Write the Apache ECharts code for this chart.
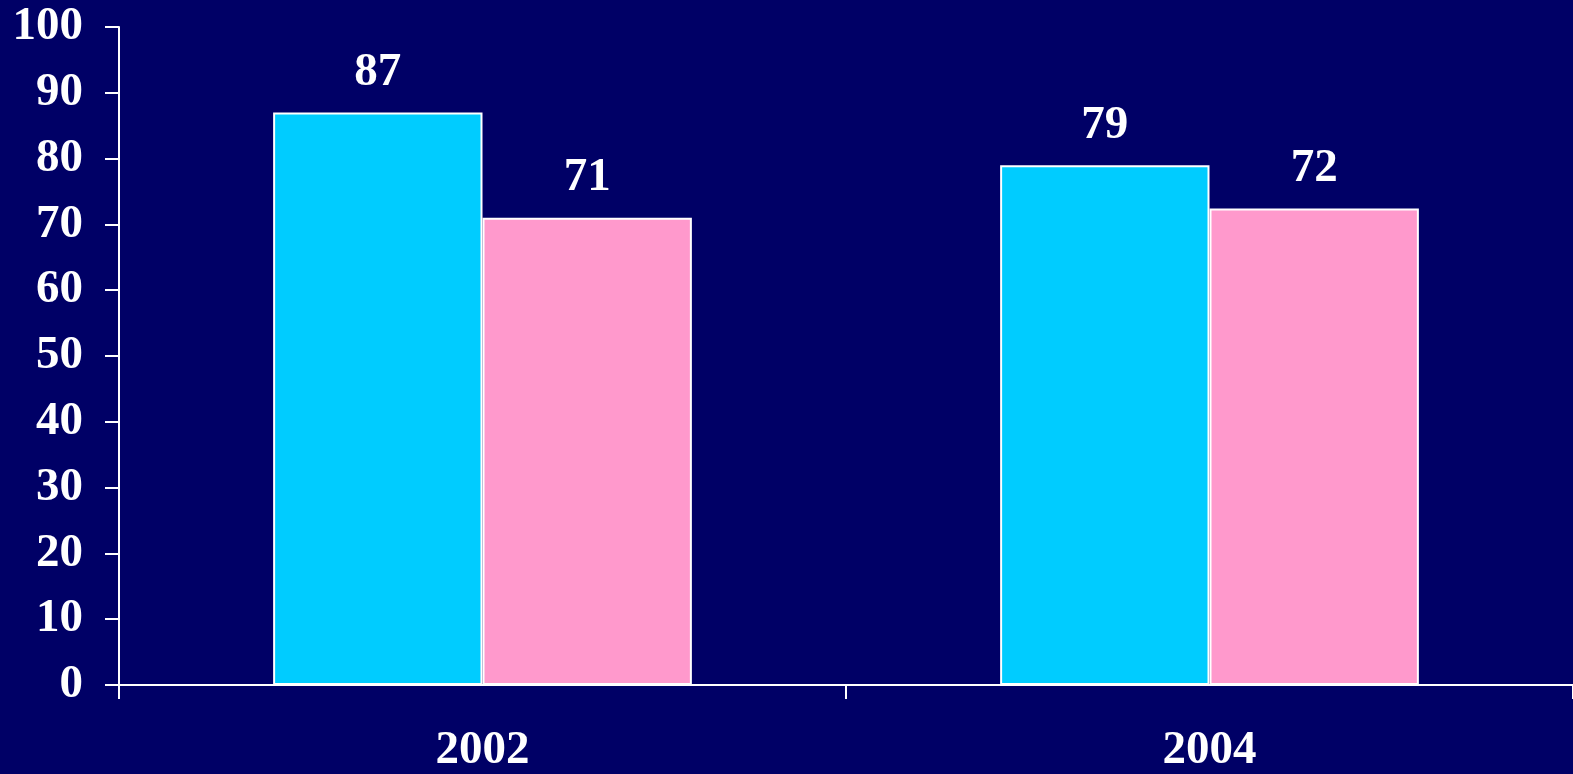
<!DOCTYPE html>
<html>
<head>
<meta charset="utf-8">
<script src="https://cdn.jsdelivr.net/npm/echarts@6/dist/echarts.min.js"></script>
<style>
html,body{margin:0;padding:0;background:#000066;overflow:hidden;}
#c{width:1573px;height:774px;}
</style>
</head>
<body>
<div id="c"></div>
<script>
const categories = ['2002', '2004'];
const seriesA = [87, 79];
const seriesB = [71, 72.4];
const yTicks = { min: 0, max: 100, interval: 10 };

const font = '"Liberation Serif", "Times New Roman", serif';
const chart = echarts.init(document.getElementById('c'));
const labelStyle = {
  show: true, position: 'top', distance: 16,
  color: '#ffffff', fontFamily: font, fontWeight: 'bold', fontSize: 47,
  formatter: p => Math.round(p.value)
};
chart.setOption({
  backgroundColor: '#000066',
  animation: false,
  grid: { left: 119, right: 0, top: 27, bottom: 88, containLabel: false },
  xAxis: {
    type: 'category', data: categories,
    axisLine: { show: true, lineStyle: { color: '#ffffff', width: 2 } },
    axisTick: { show: true, alignWithLabel: false, length: 14, lineStyle: { color: '#ffffff', width: 2 } },
    axisLabel: { color: '#ffffff', fontFamily: font, fontWeight: 'bold', fontSize: 47, margin: 42 },
    splitLine: { show: false }
  },
  yAxis: {
    type: 'value', min: yTicks.min, max: yTicks.max, interval: yTicks.interval,
    axisLine: { show: true, lineStyle: { color: '#ffffff', width: 2 } },
    axisTick: { show: true, length: 14, lineStyle: { color: '#ffffff', width: 2 } },
    axisLabel: { color: '#ffffff', fontFamily: font, fontWeight: 'bold', fontSize: 47, margin: 36 },
    splitLine: { show: false }
  },
  series: [
    { type: 'bar', data: seriesA, barGap: '0%', barCategoryGap: '42.4%',
      itemStyle: { color: '#00CCFF', borderColor: '#ffffff', borderWidth: 2 },
      label: labelStyle },
    { type: 'bar', data: seriesB, barGap: '0%', barCategoryGap: '42.4%',
      itemStyle: { color: '#FF99CC', borderColor: '#ffffff', borderWidth: 2 },
      label: labelStyle }
  ]
});
</script>
</body>
</html>
